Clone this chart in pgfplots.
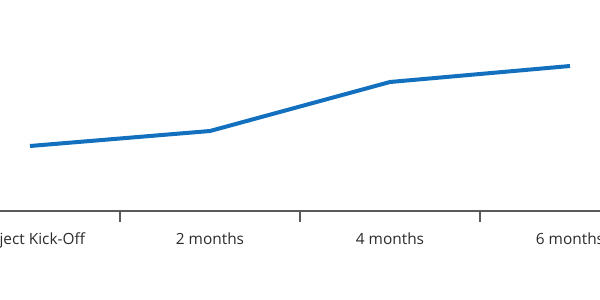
\documentclass[border=0pt]{standalone}
\usepackage{fontspec}
\setmainfont{Open Sans}
\usepackage{pgfplots}
\pgfplotsset{compat=1.18}
\definecolor{lineblue}{HTML}{1270BE}
\definecolor{axisgrey}{HTML}{5A5A5A}
\definecolor{textgrey}{HTML}{2B2B2B}
\begin{document}
\begin{tikzpicture}
\path[use as bounding box] (0,-44.5pt) rectangle (300pt,105.5pt);
\clip (0,-44.5pt) rectangle (300pt,105.5pt);
\begin{axis}[
  at={(0,0)}, anchor=south west,
  scale only axis, width=300pt, height=105.5pt,
  xmin=-0.16667, xmax=3.16667, ymin=0, ymax=211,
  axis x line*=bottom, axis y line=none,
  axis line style={axisgrey, line width=0.6pt, -},
  xtick={0,1,2,3},
  xticklabels={Project Kick-Off, 2 months, 4 months, 6 months},
  major tick length=0pt,
  minor xtick={0.5,1.5,2.5},
  minor tick length=5.5pt,
  tick align=outside,
  tick style={axisgrey, line width=0.6pt},
  ytick=\empty,
  xticklabel style={font=\fontsize{7.7}{8.5}\selectfont, text=textgrey, yshift=-7.5pt},
  clip=false,
]
\addplot[lineblue, line width=2pt, line join=round] coordinates {
  (0,65) (1,80) (2,129) (3,145)
};
\end{axis}
\end{tikzpicture}
\end{document}
